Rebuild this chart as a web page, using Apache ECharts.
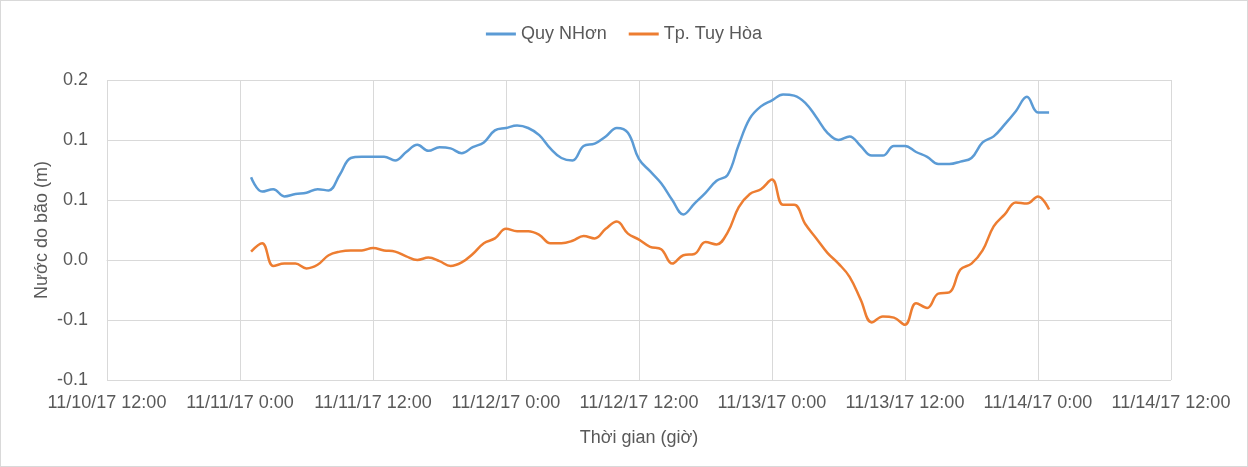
<!DOCTYPE html>
<html>
<head>
    <meta charset="utf-8">
    <script src="https://cdn.jsdelivr.net/npm/echarts@6/dist/echarts.min.js"></script>
    <style>
        html, body {
            margin: 0;
            padding: 0;
            background: #fff;
        }
        #main {
            width: 1248px;
            height: 467px;
            box-sizing: border-box;
            border: 1px solid #d9d9d9;
        }
    </style>
</head>
<body>
    <div id="main"></div>
    <script>
        // x tick labels, one every 12 hours starting at 11/10/17 12:00
        var tickLabels = [
            '11/10/17 12:00', '11/11/17 0:00', '11/11/17 12:00', '11/12/17 0:00',
            '11/12/17 12:00', '11/13/17 0:00', '11/13/17 12:00', '11/14/17 0:00',
            '11/14/17 12:00'
        ];

        // hours after 11/11/17 0:00
        var hours = [
            1, 2, 3, 4, 5, 6, 7, 8, 9, 10, 11, 12, 13, 14, 15, 16, 17, 18, 19, 20,
            21, 22, 23, 24, 25, 26, 27, 28, 29, 30, 31, 32, 33, 34, 35, 36, 37, 38, 39, 40,
            41, 42, 43, 44, 45, 46, 47, 48, 49, 50, 51, 52, 53, 54, 55, 56, 57, 58, 59, 60,
            61, 62, 63, 64, 65, 66, 67, 68, 69, 70, 71, 72, 73
        ];

        var quyNhon = [
            0.069, 0.057, 0.059, 0.053, 0.055, 0.056, 0.059, 0.058, 0.071, 0.085,
            0.086, 0.086, 0.086, 0.083, 0.090, 0.096, 0.091, 0.094, 0.093, 0.089,
            0.094, 0.098, 0.108, 0.110, 0.112, 0.110, 0.104, 0.093, 0.085, 0.083,
            0.095, 0.097, 0.103, 0.110, 0.106, 0.084, 0.074, 0.064, 0.050, 0.038,
            0.047, 0.056, 0.066, 0.071, 0.096, 0.118, 0.128, 0.133, 0.138, 0.137,
            0.131, 0.119, 0.106, 0.100, 0.103, 0.095, 0.087, 0.087, 0.095, 0.095,
            0.090, 0.086, 0.080, 0.080, 0.082, 0.085, 0.098, 0.103, 0.113, 0.124,
            0.136, 0.123, 0.123
        ];

        var tuyHoa = [
            0.007, 0.014, -0.005, -0.003, -0.003, -0.007, -0.004, 0.004, 0.007, 0.008,
            0.008, 0.010, 0.008, 0.007, 0.003, 0.000, 0.002, -0.001, -0.005, -0.002,
            0.005, 0.014, 0.018, 0.026, 0.024, 0.024, 0.021, 0.014, 0.014, 0.016,
            0.020, 0.018, 0.026, 0.032, 0.022, 0.017, 0.011, 0.009, -0.003, 0.004,
            0.005, 0.015, 0.013, 0.023, 0.044, 0.055, 0.059, 0.067, 0.046, 0.046,
            0.030, 0.018, 0.006, -0.003, -0.014, -0.033, -0.052, -0.047, -0.048, -0.054,
            -0.036, -0.040, -0.028, -0.027, -0.008, -0.003, 0.008, 0.028, 0.038, 0.048,
            0.047, 0.053, 0.042
        ];

        var textColor = '#595959';
        var gridColor = '#d9d9d9';
        var fontFamily = '"Liberation Sans", Arial, sans-serif';

        function pairs(values) {
            return values.map(function (v, i) {
                return [12 + hours[i], v];
            });
        }

        // Excel style rounding to one decimal (half away from zero)
        function oneDecimal(v) {
            var r = Math.round(Math.abs(v) * 10 + 1e-9) / 10;
            return (v < 0 && r !== 0 ? '-' : '') + r.toFixed(1);
        }

        var chart = echarts.init(document.getElementById('main'));

        var option = {
            animation: false,
            textStyle: {
                fontFamily: fontFamily
            },
            legend: {
                top: 19,
                left: 'center',
                icon: 'rect',
                itemWidth: 30,
                itemHeight: 3,
                itemGap: 22,
                textStyle: {
                    color: textColor,
                    fontSize: 18,
                    fontFamily: fontFamily
                },
                data: ['Quy NHơn', 'Tp. Tuy Hòa']
            },
            grid: {
                left: 106,
                top: 79,
                right: 76,
                bottom: 86
            },
            xAxis: {
                type: 'value',
                min: 0,
                max: 96,
                interval: 12,
                name: 'Thời gian (giờ)',
                nameLocation: 'middle',
                nameGap: 49,
                nameMoveOverlap: false,
                nameTextStyle: {
                    color: textColor,
                    fontSize: 18,
                    fontFamily: fontFamily
                },
                axisLine: {
                    show: true,
                    lineStyle: {color: gridColor}
                },
                axisTick: {show: false},
                axisLabel: {
                    color: textColor,
                    fontSize: 18,
                    margin: 14,
                    fontFamily: fontFamily,
                    formatter: function (v) {
                        return tickLabels[Math.round(v / 12)];
                    }
                },
                splitLine: {
                    show: true,
                    lineStyle: {color: gridColor}
                }
            },
            yAxis: {
                type: 'value',
                min: -0.1,
                max: 0.15,
                interval: 0.05,
                name: 'Nước do bão (m)',
                nameLocation: 'middle',
                nameGap: 56,
                nameMoveOverlap: false,
                nameTextStyle: {
                    color: textColor,
                    fontSize: 18,
                    fontFamily: fontFamily
                },
                axisLine: {show: false},
                axisTick: {show: false},
                axisLabel: {
                    color: textColor,
                    fontSize: 18,
                    margin: 19,
                    fontFamily: fontFamily,
                    formatter: oneDecimal
                },
                splitLine: {
                    lineStyle: {color: gridColor}
                }
            },
            series: [
                {
                    name: 'Quy NHơn',
                    type: 'line',
                    smooth: 0.4,
                    showSymbol: false,
                    itemStyle: {color: '#5b9bd5'},
                    lineStyle: {color: '#5b9bd5', width: 2.5},
                    data: pairs(quyNhon)
                },
                {
                    name: 'Tp. Tuy Hòa',
                    type: 'line',
                    smooth: 0.4,
                    showSymbol: false,
                    itemStyle: {color: '#ed7d31'},
                    lineStyle: {color: '#ed7d31', width: 2.5},
                    data: pairs(tuyHoa)
                }
            ]
        };

        chart.setOption(option);
    </script>
</body>
</html>
